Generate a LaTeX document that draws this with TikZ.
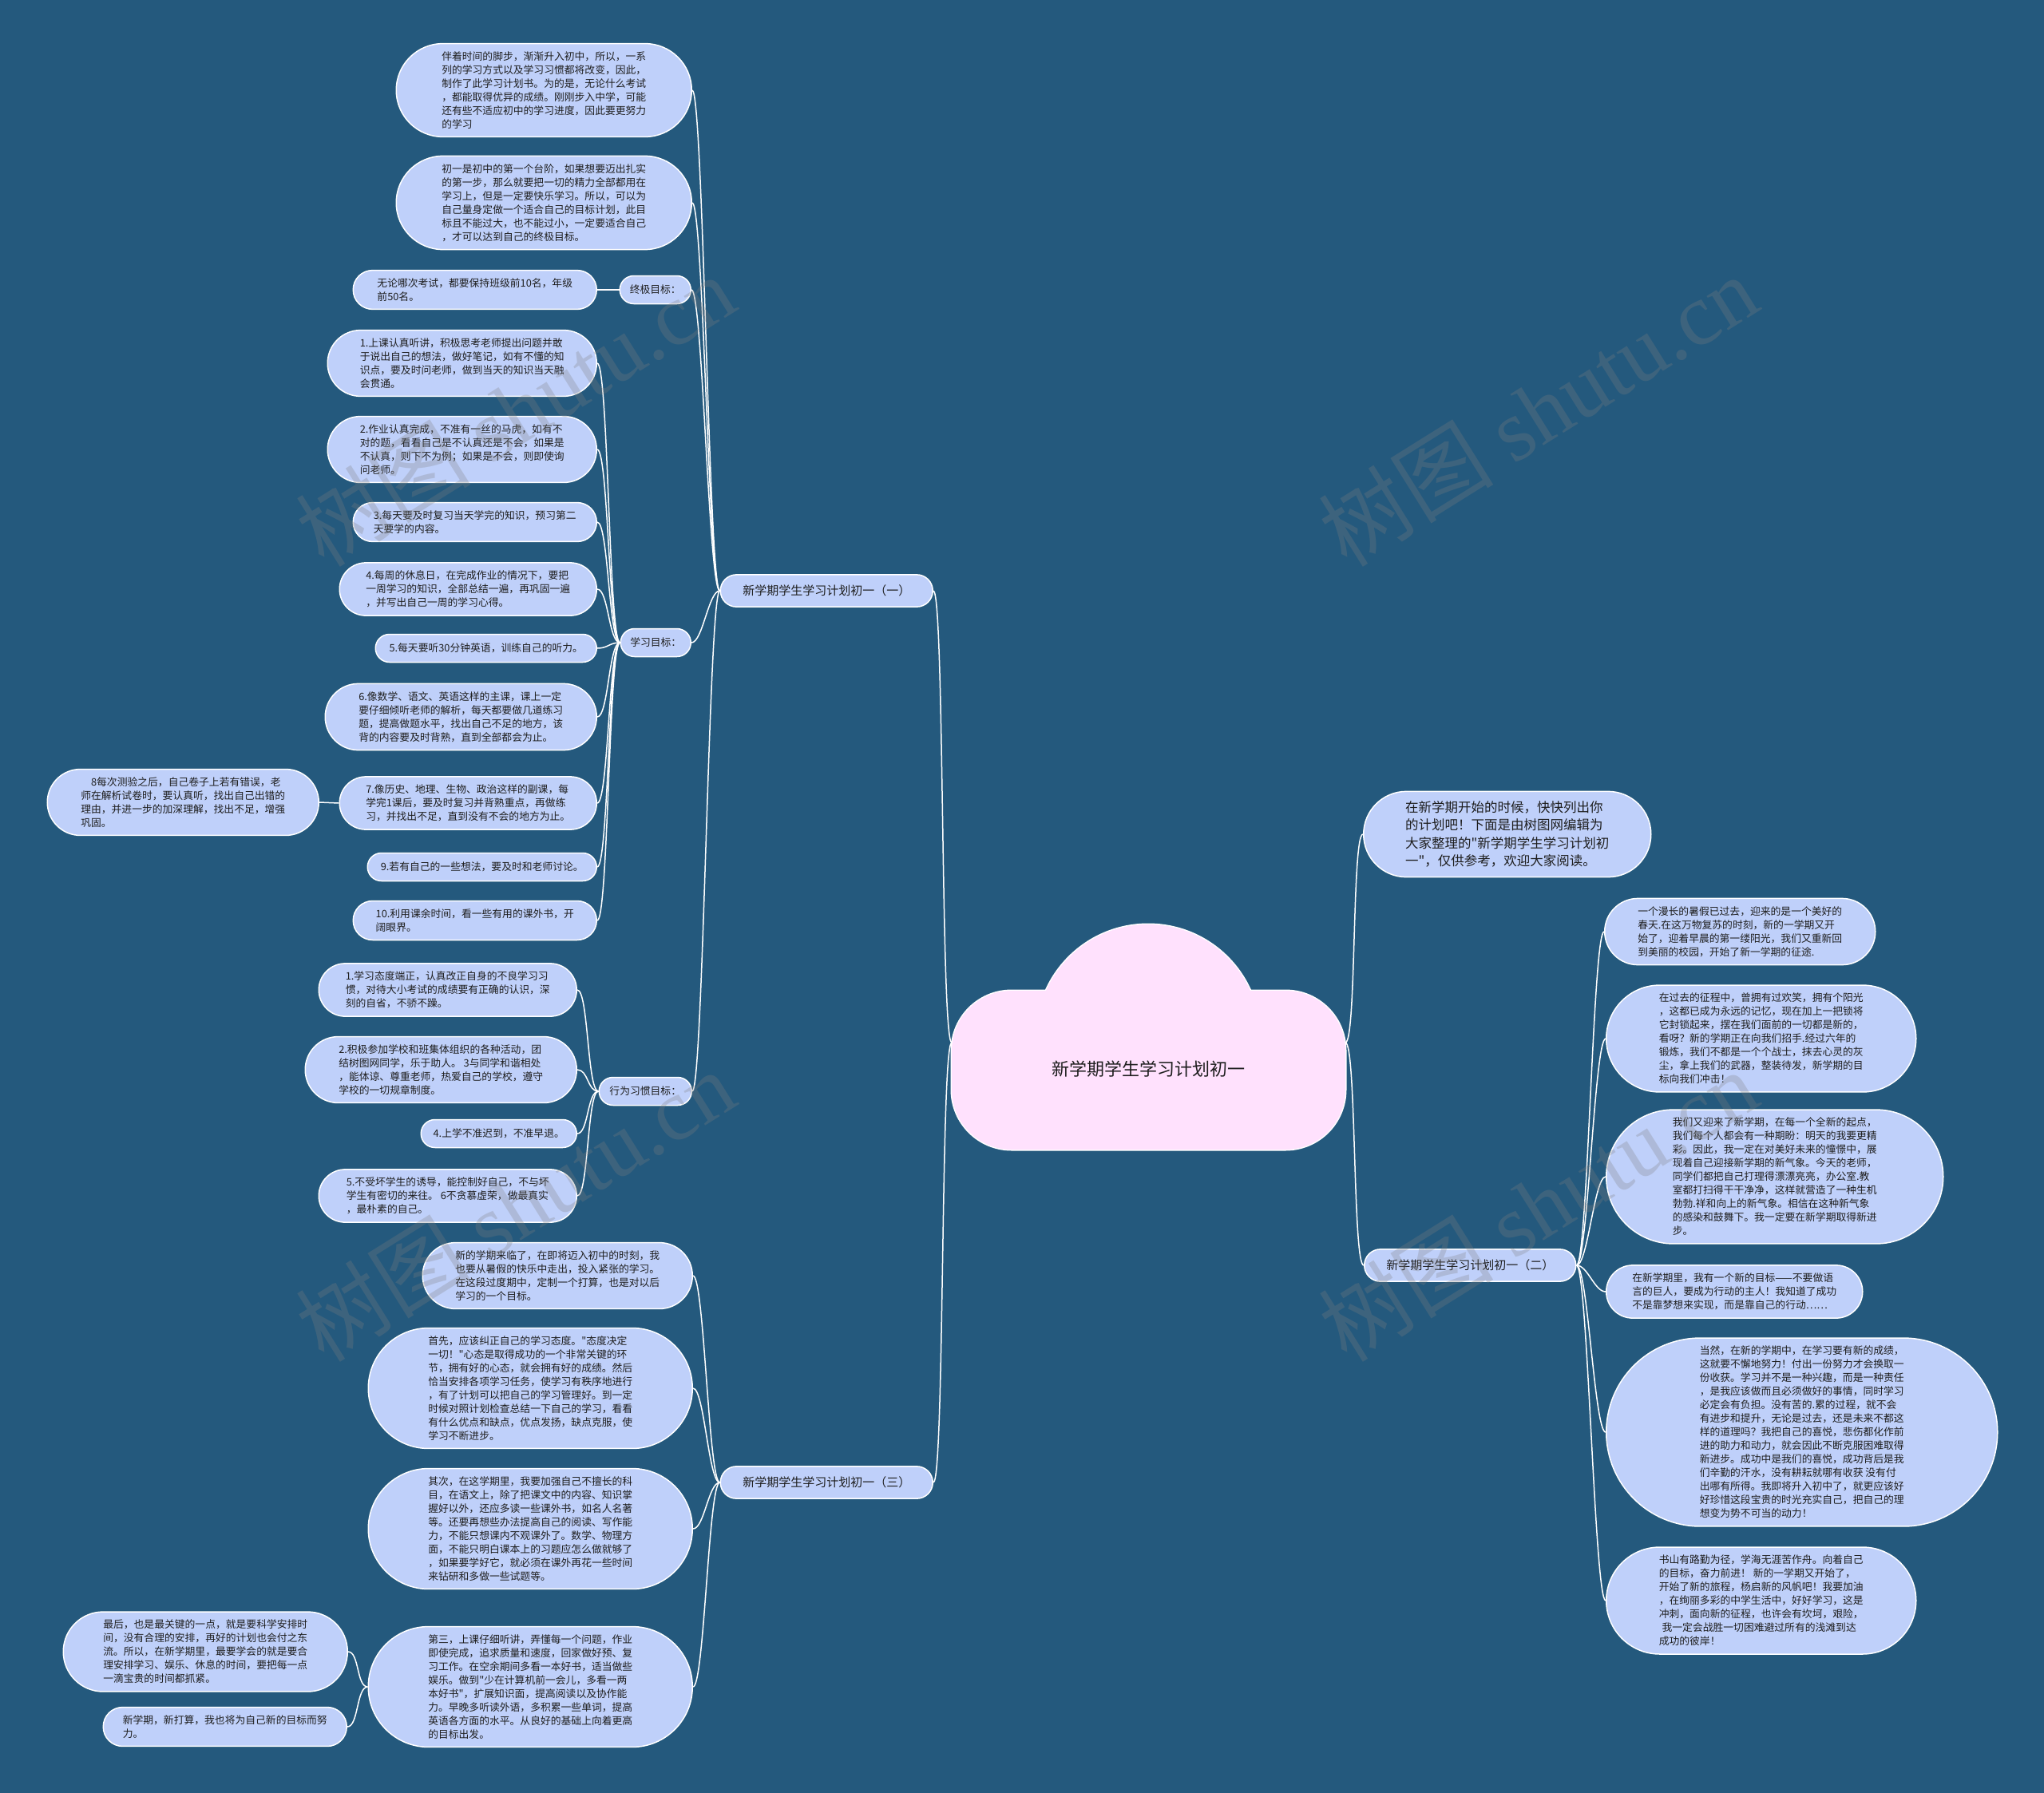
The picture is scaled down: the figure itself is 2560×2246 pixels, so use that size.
\documentclass[tikz,border=0pt]{standalone}
\usepackage{fontspec}
\setmainfont{Noto Sans CJK SC}[Ligatures=TeXOff]
\newfontfamily\wmfont{Liberation Serif}
\usetikzlibrary{shapes.misc}
\definecolor{mapbg}{RGB}{36,89,125}
\definecolor{mapblue}{RGB}{191,208,250}
\definecolor{mappink}{RGB}{255,225,253}
\definecolor{maptext}{RGB}{30,30,30}

\begin{document}
\begin{tikzpicture}[x=1pt, y=-1pt,
  bub/.style={rounded rectangle, draw=white, line width=1.5pt, fill=mapblue, text=maptext, align=left, inner xsep=2pt, inner ysep=10pt, minimum height=35pt, font=\fontsize{12.8}{17}\selectfont},
  lvl/.style={bub, inner xsep=6pt, inner ysep=13pt, font=\fontsize{15}{20}\selectfont},
  lnk/.style={draw=white, line width=1.5pt},
  wm/.style={rotate=32, text=gray, opacity=0.28, font=\fontsize{110}{110}\selectfont}]
\useasboundingbox (0,0) rectangle (2560,2246);
\fill[mapbg] (0,0) rectangle (2560,2246);
% Cloud
\draw[white, line width=3pt, rounded corners=75pt] (1192,1241) rectangle (1685,1440);
\draw[white, line width=3pt] (1438,1298) circle[radius=140pt];
\fill[mappink, rounded corners=75pt] (1192,1241) rectangle (1685,1440);
\fill[mappink] (1438,1298) circle[radius=140pt];
\node[text=maptext, font=\fontsize{22}{26}\selectfont] (root) at (1438,1339) {新学期学生学习计划初一};
\coordinate (rootw) at (1192,1306);
\coordinate (roote) at (1685,1306);
% Main branches
\node[lvl, anchor=east, minimum width=278pt] (one) at (1169,740) {新学期学生学习计划初一（一）};
\node[lvl, anchor=east, minimum width=278pt] (three) at (1169,1857) {新学期学生学习计划初一（三）};
\node[lvl, anchor=west, minimum width=372pt, inner ysep=12pt, font=\fontsize{16.5}{22.5}\selectfont] (intro) at (1707,1045) {在新学期开始的时候，快快列出你\\的计划吧！下面是由树图网编辑为\\大家整理的"新学期学生学习计划初\\一"，仅供参考，欢迎大家阅读。};
\node[lvl, anchor=west, minimum width=277pt] (two) at (1708,1585) {新学期学生学习计划初一（二）};
% Branch one
\node[bub, anchor=east, minimum width=374pt] (a1) at (867,113) {伴着时间的脚步，渐渐升入初中，所以，一系\\列的学习方式以及学习习惯都将改变，因此，\\制作了此学习计划书。为的是，无论什么考试\\，都能取得优异的成绩。刚刚步入中学，可能\\还有些不适应初中的学习进度，因此要更努力\\的学习};
\node[bub, anchor=east, minimum width=374pt] (a2) at (867,254) {初一是初中的第一个台阶，如果想要迈出扎实\\的第一步，那么就要把一切的精力全部都用在\\学习上，但是一定要快乐学习。所以，可以为\\自己量身定做一个适合自己的目标计划，此目\\标且不能过大，也不能过小，一定要适合自己\\，才可以达到自己的终极目标。};
\node[bub, anchor=east, minimum width=93pt] (goal) at (866,363) {终极目标：};
\node[bub, anchor=east, minimum width=309pt] (goalc) at (748,363) {无论哪次考试，都要保持班级前10名，年级\\前50名。};
\node[bub, anchor=east, minimum width=92pt] (study) at (866,805) {学习目标：};
\node[bub, anchor=east, minimum width=341pt] (s1) at (748,455) {1.上课认真听讲，积极思考老师提出问题并敢\\于说出自己的想法，做好笔记，如有不懂的知\\识点，要及时问老师，做到当天的知识当天融\\会贯通。};
\node[bub, anchor=east, minimum width=341pt] (s2) at (748,563) {2.作业认真完成，不准有一丝的马虎，如有不\\对的题，看看自己是不认真还是不会，如果是\\不认真，则下不为例；如果是不会，则即使询\\问老师。};
\node[bub, anchor=east, minimum width=309pt] (s3) at (748,654) {3.每天要及时复习当天学完的知识，预习第二\\天要学的内容。};
\node[bub, anchor=east, minimum width=326pt] (s4) at (748,738) {4.每周的休息日，在完成作业的情况下，要把\\一周学习的知识，全部总结一遍，再巩固一遍\\，并写出自己一周的学习心得。};
\node[bub, anchor=east, minimum width=281pt] (s5) at (748,812) {5.每天要听30分钟英语，训练自己的听力。};
\node[bub, anchor=east, minimum width=344pt] (s6) at (748,898) {6.像数学、语文、英语这样的主课，课上一定\\要仔细倾听老师的解析，每天都要做几道练习\\题，提高做题水平，找出自己不足的地方，该\\背的内容要及时背熟，直到全部都会为止。};
\node[bub, anchor=east, minimum width=326pt] (s7) at (748,1006) {7.像历史、地理、生物、政治这样的副课，每\\学完1课后，要及时复习并背熟重点，再做练\\习，并找出不足，直到没有不会的地方为止。};
\node[bub, anchor=east, minimum width=344pt] (s8) at (400,1005) {\hspace*{1em}8每次测验之后，自己卷子上若有错误，老\\师在解析试卷时，要认真听，找出自己出错的\\理由，并进一步的加深理解，找出不足，增强\\巩固。};
\node[bub, anchor=east, minimum width=291pt] (s9) at (748,1086) {9.若有自己的一些想法，要及时和老师讨论。};
\node[bub, anchor=east, minimum width=309pt] (s10) at (748,1153) {10.利用课余时间，看一些有用的课外书，开\\阔眼界。};
\node[bub, anchor=east, minimum width=120pt] (habit) at (867,1367) {行为习惯目标：};
\node[bub, anchor=east, minimum width=327pt] (h1) at (723,1240) {1.学习态度端正，认真改正自身的不良学习习\\惯，对待大小考试的成绩要有正确的认识，深\\刻的自省，不骄不躁。};
\node[bub, anchor=east, minimum width=344pt] (h2) at (723,1340) {2.积极参加学校和班集体组织的各种活动，团\\结树图网同学，乐于助人。 3与同学和谐相处\\，能体谅、尊重老师，热爱自己的学校，遵守\\学校的一切规章制度。};
\node[bub, anchor=east, minimum width=199pt] (h4) at (723,1420) {4.上学不准迟到，不准早退。};
\node[bub, anchor=east, minimum width=327pt] (h5) at (723,1498) {5.不受坏学生的诱导，能控制好自己，不与坏\\学生有密切的来往。 6不贪慕虚荣，做最真实\\，最朴素的自己。};
% Branch three
\node[bub, anchor=east, minimum width=342pt] (t1) at (868,1598) {新的学期来临了，在即将迈入初中的时刻，我\\也要从暑假的快乐中走出，投入紧张的学习。\\在这段过度期中，定制一个打算，也是对以后\\学习的一个目标。};
\node[bub, anchor=east, minimum width=410pt] (t2) at (868,1739) {首先，应该纠正自己的学习态度。"态度决定\\一切！"心态是取得成功的一个非常关键的环\\节，拥有好的心态，就会拥有好的成绩。然后\\恰当安排各项学习任务，使学习有秩序地进行\\，有了计划可以把自己的学习管理好。到一定\\时候对照计划检查总结一下自己的学习，看看\\有什么优点和缺点，优点发扬，缺点克服，使\\学习不断进步。};
\node[bub, anchor=east, minimum width=410pt] (t3) at (868,1915) {其次，在这学期里，我要加强自己不擅长的科\\目，在语文上，除了把课文中的内容、知识掌\\握好以外，还应多读一些课外书，如名人名著\\等。还要再想些办法提高自己的阅读、写作能\\力，不能只想课内不观课外了。数学、物理方\\面，不能只明白课本上的习题应怎么做就够了\\，如果要学好它，就必须在课外再花一些时间\\来钻研和多做一些试题等。};
\node[bub, anchor=east, minimum width=410pt] (t4) at (868,2113) {第三，上课仔细听讲，弄懂每一个问题，作业\\即使完成，追求质量和速度，回家做好预、复\\习工作。在空余期间多看一本好书，适当做些\\娱乐。做到"少在计算机前一会儿，多看一两\\本好书"，扩展知识面，提高阅读以及协作能\\力。早晚多听读外语，多积累一些单词，提高\\英语各方面的水平。从良好的基础上向着更高\\的目标出发。};
\node[bub, anchor=east, minimum width=360pt] (t5) at (436,2069) {最后，也是最关键的一点，就是要科学安排时\\间，没有合理的安排，再好的计划也会付之东\\流。所以，在新学期里，最要学会的就是要合\\理安排学习、娱乐、休息的时间，要把每一点\\一滴宝贵的时间都抓紧。};
\node[bub, anchor=east, minimum width=309pt] (t6) at (435,2163) {新学期，新打算，我也将为自己新的目标而努\\力。};
% Branch two
\node[bub, anchor=west, minimum width=343pt] (r1) at (2009,1167) {一个漫长的暑假已过去，迎来的是一个美好的\\春天.在这万物复苏的时刻，新的一学期又开\\始了，迎着早晨的第一缕阳光，我们又重新回\\到美丽的校园，开始了新一学期的征途.};
\node[bub, anchor=west, minimum width=392pt] (r2) at (2011,1301) {在过去的征程中，曾拥有过欢笑，拥有个阳光\\，这都已成为永远的记忆，现在加上一把锁将\\它封锁起来，摆在我们面前的一切都是新的，\\看呀？新的学期正在向我们招手.经过六年的\\锻炼，我们不都是一个个战士，抹去心灵的灰\\尘，拿上我们的武器，整装待发，新学期的目\\标向我们冲击！};
\node[bub, anchor=west, minimum width=426pt] (r3) at (2011,1474) {我们又迎来了新学期，在每一个全新的起点，\\我们每个人都会有一种期盼：明天的我要更精\\彩。因此，我一定在对美好未来的憧憬中，展\\现着自己迎接新学期的新气象。今天的老师，\\同学们都把自己打理得漂漂亮亮，办公室.教\\室都打扫得干干净净，这样就营造了一种生机\\勃勃.祥和向上的新气象。相信在这种新气象\\的感染和鼓舞下。我一定要在新学期取得新进\\步。};
\node[bub, anchor=west, minimum width=325pt] (r4) at (2011,1618) {在新学期里，我有一个新的目标——不要做语\\言的巨人，要成为行动的主人！我知道了成功\\不是靠梦想来实现，而是靠自己的行动……};
\node[bub, anchor=west, minimum width=494pt] (r5) at (2011,1794) {当然，在新的学期中，在学习要有新的成绩，\\这就要不懈地努力！付出一份努力才会换取一\\份收获。学习并不是一种兴趣，而是一种责任\\，是我应该做而且必须做好的事情，同时学习\\必定会有负担。没有苦的.累的过程，就不会\\有进步和提升，无论是过去，还是未来不都这\\样的道理吗？我把自己的喜悦，悲伤都化作前\\进的助力和动力，就会因此不断克服困难取得\\新进步。成功中是我们的喜悦，成功背后是我\\们辛勤的汗水，没有耕耘就哪有收获 没有付\\出哪有所得。我即将升入初中了，就更应该好\\好珍惜这段宝贵的时光充实自己，把自己的理\\想变为势不可当的动力！};
\node[bub, anchor=west, minimum width=392pt] (r6) at (2011,2005) {书山有路勤为径，学海无涯苦作舟。向着自己\\的目标，奋力前进！ 新的一学期又开始了，\\开始了新的旅程，杨启新的风帆吧！我要加油\\，在绚丽多彩的中学生活中，好好学习，这是\\冲刺，面向新的征程，也许会有坎坷，艰险，\\\hspace*{0.3em}我一定会战胜一切困难避过所有的浅滩到达\\成功的彼岸！};
% Connectors
\draw[lnk] (rootw) .. controls +(-14,0) and +(14,0) .. (one.east);
\draw[lnk] (rootw) .. controls +(-14,0) and +(14,0) .. (three.east);
\draw[lnk] (roote) .. controls +(14,0) and +(-14,0) .. (intro.west);
\draw[lnk] (roote) .. controls +(14,0) and +(-14,0) .. (two.west);
\draw[lnk] (one.west) .. controls +(-14,0) and +(14,0) .. (a1.east);
\draw[lnk] (one.west) .. controls +(-14,0) and +(14,0) .. (a2.east);
\draw[lnk] (one.west) .. controls +(-14,0) and +(14,0) .. (goal.east);
\draw[lnk] (one.west) .. controls +(-14,0) and +(14,0) .. (study.east);
\draw[lnk] (one.west) .. controls +(-14,0) and +(14,0) .. (habit.east);
\draw[lnk] (goal.west) -- (goalc.east);
\draw[lnk] (study.west) .. controls +(-14,0) and +(14,0) .. (s1.east);
\draw[lnk] (study.west) .. controls +(-14,0) and +(14,0) .. (s2.east);
\draw[lnk] (study.west) .. controls +(-14,0) and +(14,0) .. (s3.east);
\draw[lnk] (study.west) .. controls +(-14,0) and +(14,0) .. (s4.east);
\draw[lnk] (study.west) .. controls +(-14,0) and +(14,0) .. (s5.east);
\draw[lnk] (study.west) .. controls +(-14,0) and +(14,0) .. (s6.east);
\draw[lnk] (study.west) .. controls +(-14,0) and +(14,0) .. (s7.east);
\draw[lnk] (study.west) .. controls +(-14,0) and +(14,0) .. (s9.east);
\draw[lnk] (study.west) .. controls +(-14,0) and +(14,0) .. (s10.east);
\draw[lnk] (s7.west) -- (s8.east);
\draw[lnk] (habit.west) .. controls +(-14,0) and +(14,0) .. (h1.east);
\draw[lnk] (habit.west) .. controls +(-14,0) and +(14,0) .. (h2.east);
\draw[lnk] (habit.west) .. controls +(-14,0) and +(14,0) .. (h4.east);
\draw[lnk] (habit.west) .. controls +(-14,0) and +(14,0) .. (h5.east);
\draw[lnk] (three.west) .. controls +(-14,0) and +(14,0) .. (t1.east);
\draw[lnk] (three.west) .. controls +(-14,0) and +(14,0) .. (t2.east);
\draw[lnk] (three.west) .. controls +(-14,0) and +(14,0) .. (t3.east);
\draw[lnk] (three.west) .. controls +(-14,0) and +(14,0) .. (t4.east);
\draw[lnk] (t4.west) .. controls +(-14,0) and +(14,0) .. (t5.east);
\draw[lnk] (t4.west) .. controls +(-14,0) and +(14,0) .. (t6.east);
\draw[lnk] (two.east) .. controls +(14,0) and +(-14,0) .. (r1.west);
\draw[lnk] (two.east) .. controls +(14,0) and +(-14,0) .. (r2.west);
\draw[lnk] (two.east) .. controls +(14,0) and +(-14,0) .. (r3.west);
\draw[lnk] (two.east) .. controls +(14,0) and +(-14,0) .. (r4.west);
\draw[lnk] (two.east) .. controls +(14,0) and +(-14,0) .. (r5.west);
\draw[lnk] (two.east) .. controls +(14,0) and +(-14,0) .. (r6.west);
% Watermarks
\node[wm] (wm1) at (645,514) {树图 {\wmfont shutu.cn}};
\node[wm] (wm2) at (1926,514) {树图 {\wmfont shutu.cn}};
\node[wm] (wm3) at (645,1510) {树图 {\wmfont shutu.cn}};
\node[wm] (wm4) at (1926,1510) {树图 {\wmfont shutu.cn}};
\end{tikzpicture}
\end{document}
